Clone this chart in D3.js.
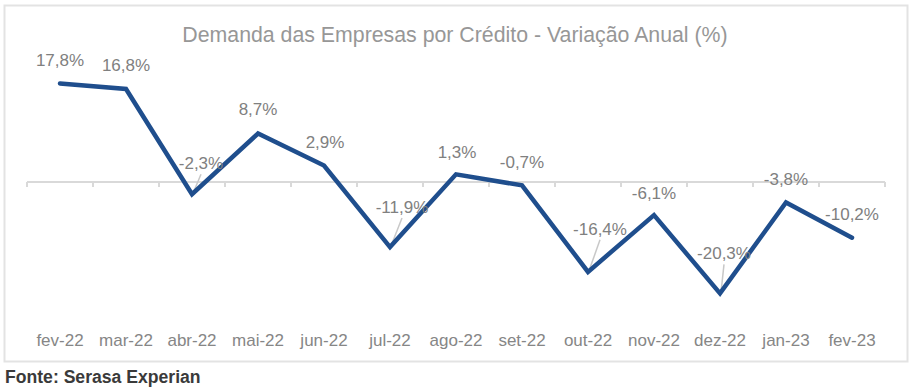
<!DOCTYPE html>
<html><head><meta charset="utf-8">
<script src="https://cdn.jsdelivr.net/npm/d3@7"></script>
<style>body{margin:0;background:#fff;font-family:Arial,"Liberation Sans",sans-serif}</style>
</head><body><svg id="c" width="913" height="390"></svg>
<script>
const categories = ["fev-22","mar-22","abr-22","mai-22","jun-22","jul-22","ago-22","set-22","out-22","nov-22","dez-22","jan-23","fev-23"];
const values = [17.8,16.8,-2.3,8.7,2.9,-11.9,1.3,-0.7,-16.4,-6.1,-20.3,-3.8,-10.2];
const labels = ["17,8%","16,8%","-2,3%","8,7%","2,9%","-11,9%","1,3%","-0,7%","-16,4%","-6,1%","-20,3%","-3,8%","-10,2%"];
const title = "Demanda das Empresas por Crédito - Variação Anual (%)";
const source = "Fonte: Serasa Experian";
// label placement (layout, px offsets of label centre from the point)
const labelDx = [0,0,9,0,1,12,1,0,12,0,4,0,0];
const labelDy = [-23,-23.5,-31,-25,-24,-40,-22,-23,-43,-22,-40,-23,-23.5];
const leader = [false,false,true,false,false,true,false,false,true,false,true,false,false];

const svg = d3.select("#c");
svg.append("rect").attr("x",4.5).attr("y",5.5).attr("width",903).attr("height",356)
  .attr("fill","#fff").attr("stroke","#e3e3e3").attr("stroke-width",2);

const x = d3.scaleBand().domain(categories).range([27,885]).padding(0);
const y = d3.scaleLinear().domain([-25,20]).range([181.5+25*5.51, 181.5-20*5.51]);

svg.append("text").attr("x",455).attr("y",42).attr("text-anchor","middle")
  .attr("font-size","21.3px").attr("fill","#979797").text(title);

// category axis at zero
const axisG = svg.append("g").attr("transform",`translate(0,${y(0)+0.5})`);
axisG.append("line").attr("x1",27).attr("x2",885).attr("stroke","#d9d9d9").attr("stroke-width",2);
const tickPos = categories.map(c=>x(c)).concat([885]);
axisG.selectAll("line.t").data(tickPos).join("line").attr("class","t")
  .attr("x1",d=>d).attr("x2",d=>d).attr("y1",0).attr("y2",5).attr("stroke","#d9d9d9").attr("stroke-width",2);

svg.selectAll("text.cat").data(categories).join("text").attr("class","cat")
  .attr("x",d=>x(d)+x.bandwidth()/2).attr("y",346).attr("text-anchor","middle")
  .attr("font-size","17px").attr("fill","#868686").text(d=>d);

const pts = values.map((v,i)=>({v, i, px:x(categories[i])+x.bandwidth()/2, py:y(v)}));

// leader lines
svg.selectAll("line.ld").data(pts.filter(d=>leader[d.i])).join("line").attr("class","ld")
  .attr("x1",d=>d.px+1).attr("y1",d=>d.py-1)
  .attr("x2",d=>d.px+labelDx[d.i]).attr("y2",d=>d.py+labelDy[d.i]+11)
  .attr("stroke","#c8c8c8").attr("stroke-width",1.5);

svg.append("path").datum(pts)
  .attr("d", d3.line().x(d=>d.px).y(d=>d.py))
  .attr("fill","none").attr("stroke","#1f4e8d").attr("stroke-width",4.5)
  .attr("stroke-linejoin","miter").attr("stroke-linecap","round");

svg.selectAll("text.lb").data(pts).join("text").attr("class","lb")
  .attr("x",d=>d.px+labelDx[d.i]).attr("y",d=>d.py+labelDy[d.i]+6)
  .attr("text-anchor","middle").attr("font-size","17px").attr("fill","#808080")
  .text(d=>labels[d.i]);

svg.append("text").attr("x",5).attr("y",382.5).attr("font-size","17.6px").attr("font-weight","bold")
  .attr("fill","#3a3a3a").text(source);
</script></body></html>
